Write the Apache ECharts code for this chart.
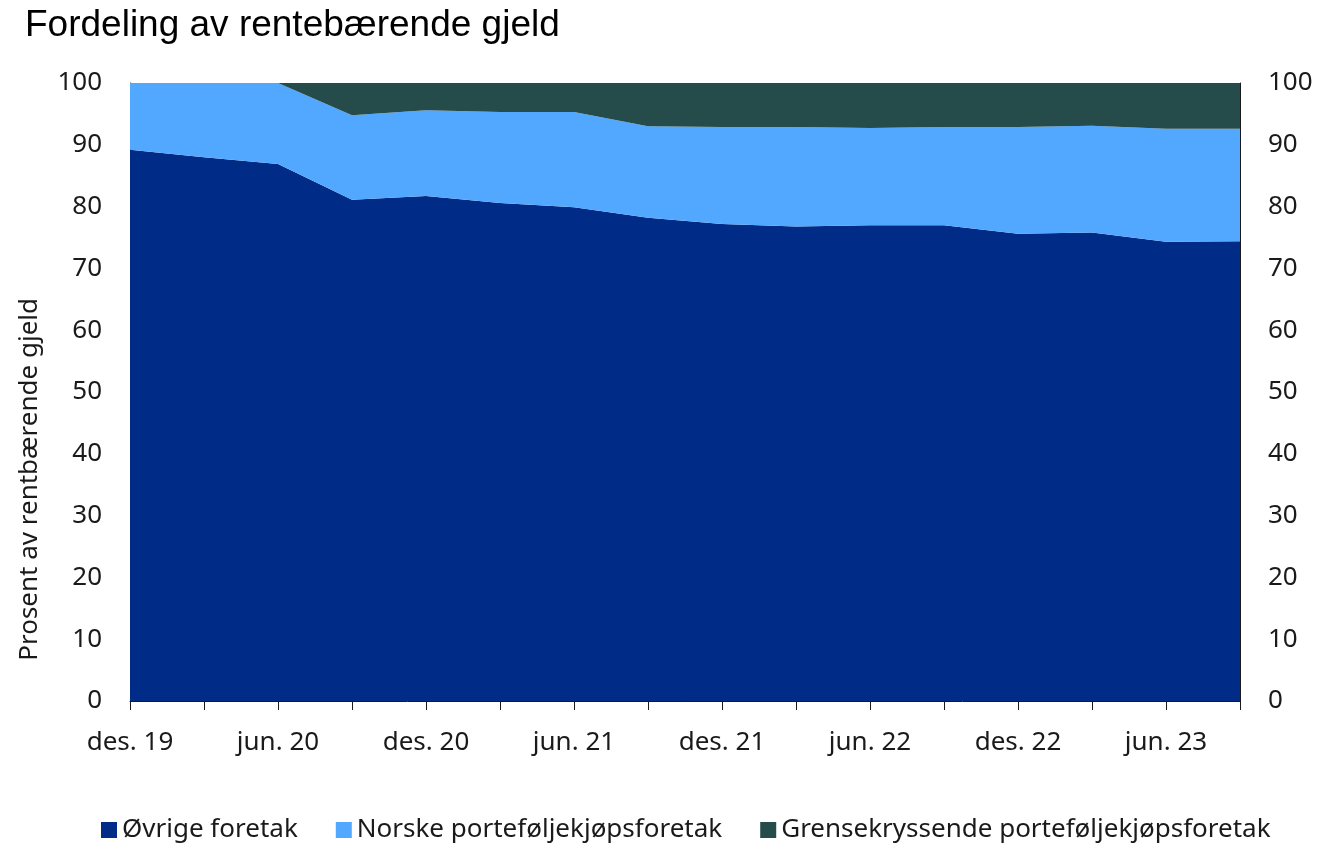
<!DOCTYPE html>
<html>
<head>
<meta charset="utf-8">
<script src="https://cdn.jsdelivr.net/npm/echarts@6/dist/echarts.min.js"></script>
<style>
  html, body { margin: 0; padding: 0; background: #fff; }
  #chart { width: 1319px; height: 845px; }
</style>
</head>
<body>
<div id="chart"></div>
<script>
// kvartalsvis, des. 19 – sep. 23
const categories = ['des. 19', 'mar. 20', 'jun. 20', 'sep. 20', 'des. 20', 'mar. 21', 'jun. 21', 'sep. 21',
  'des. 21', 'mar. 22', 'jun. 22', 'sep. 22', 'des. 22', 'mar. 23', 'jun. 23', 'sep. 23'];

const ovrige = [89.2, 88.0, 86.9, 81.1, 81.7, 80.6, 79.9, 78.2, 77.2, 76.8, 77.0, 77.0, 75.6, 75.8, 74.3, 74.4];
const norske = [10.8, 12.0, 13.1, 13.7, 13.9, 14.7, 15.4, 14.8, 15.7, 16.1, 15.7, 15.9, 17.3, 17.3, 18.3, 18.2];
const grense = [0.0, 0.0, 0.0, 5.2, 4.4, 4.7, 4.7, 7.0, 7.1, 7.1, 7.3, 7.1, 7.1, 6.9, 7.4, 7.4];

const COLORS = {
  ovrige: '#002B87',
  norske: '#52A8FF',
  grense: '#264B4B',
  axis: '#1a1a1a',
  text: '#1a1a1a',
};

const FONT = '"Noto Sans", "Open Sans", sans-serif';

const chart = echarts.init(document.getElementById('chart'));

function areaSeries(name, data, color) {
  return {
    name: name,
    type: 'line',
    stack: 'total',
    data: data,
    symbol: 'none',
    lineStyle: { width: 0 },
    areaStyle: { color: color, opacity: 1 },
    itemStyle: { color: color },
  };
}

const yAxisBase = {
  type: 'value',
  min: 0,
  max: 100,
  interval: 10,
  axisLine: { show: true, lineStyle: { color: COLORS.axis, width: 1 } },
  axisTick: { show: true, inside: true, length: 8, lineStyle: { color: COLORS.axis } },
  splitLine: { show: false },
  axisLabel: { fontSize: 26, color: COLORS.text, fontFamily: FONT, margin: 28 },
};

chart.setOption({
  animation: false,
  title: {
    text: 'Fordeling av rentebærende gjeld',
    left: 20,
    top: 2,
    textStyle: { fontSize: 37, fontWeight: 'normal', color: '#000', fontFamily: '"Liberation Sans", Arial, sans-serif' },
  },
  legend: {
    bottom: -3,
    left: 96,
    itemWidth: 16,
    itemHeight: 16,
    itemGap: 38,
    icon: 'rect',
    textStyle: { fontSize: 26, color: COLORS.text, fontFamily: FONT },
    data: ['Øvrige foretak', 'Norske porteføljekjøpsforetak', 'Grensekryssende porteføljekjøpsforetak'],
  },
  grid: { left: 130, right: 79, top: 83, bottom: 144 },
  xAxis: {
    type: 'category',
    data: categories,
    boundaryGap: false,
    axisLine: { lineStyle: { color: COLORS.axis, width: 1 } },
    axisTick: { show: true, interval: 0, length: 9, lineStyle: { color: COLORS.axis } },
    axisLabel: { interval: 1, fontSize: 26, color: COLORS.text, fontFamily: FONT, margin: 29 },
  },
  yAxis: [
    Object.assign({}, yAxisBase, { position: 'left' }),
    Object.assign({}, yAxisBase, { position: 'right' }),
  ],
  graphic: [{
    type: 'text',
    left: 17,
    top: 298,
    rotation: Math.PI / 2,
    style: {
      text: 'Prosent av rentbærende gjeld',
      fontSize: 26,
      fontFamily: FONT,
      fill: COLORS.text,
    },
  }],
  series: [
    areaSeries('Øvrige foretak', ovrige, COLORS.ovrige),
    areaSeries('Norske porteføljekjøpsforetak', norske, COLORS.norske),
    areaSeries('Grensekryssende porteføljekjøpsforetak', grense, COLORS.grense),
  ],
});
</script>
</body>
</html>
